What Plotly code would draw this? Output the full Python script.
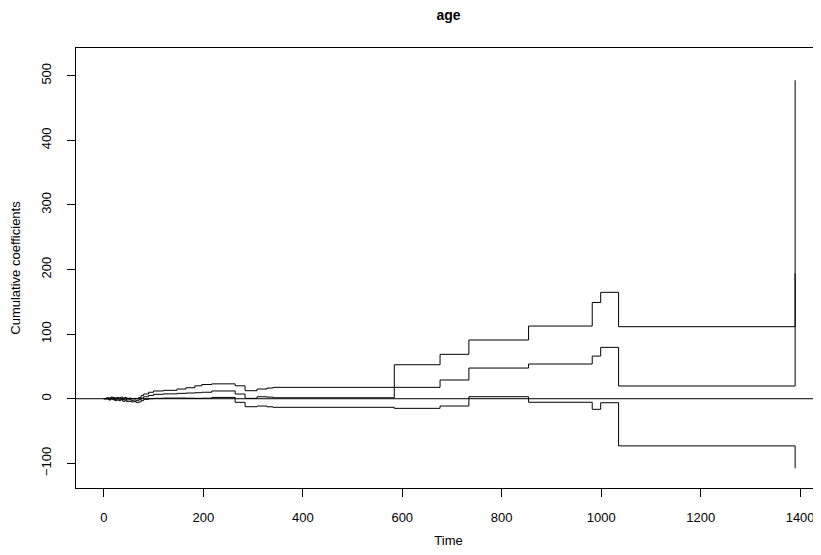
import plotly.graph_objects as go

# Step times (event times) and cumulative coefficient estimates for "age"
times = [0, 5, 10, 14, 18, 22, 26, 30, 34, 38, 42, 46, 50, 55, 60, 65, 70, 75, 80, 90,
         100, 120, 147, 165, 183, 197, 217, 264, 284, 308, 328, 340, 584, 676, 734,
         854, 982, 999, 1035, 1390]

estimate = [0, 0.5, -0.5, 1, 0.3, -1, 0, -0.8, 0.5, -1.5, -0.5, -2, -1.5, -2.5, -2, -3,
            -1.5, 1, 3, 5, 6.8, 7.5, 8.3, 8.8, 9.3, 10, 12, 7.3, 0.6, 3, 2.5, 1.5, 17.6,
            29, 47.5, 53.7, 66, 79.5, 19.7, 194]

upper = [0, 1.5, 1, 2.5, 2, 1, 2, 1.5, 2.5, 1, 2, 0.5, 1, 0, 0.5, 0, 2, 5, 7.3, 10,
         12, 13, 15, 17, 20, 22, 23, 20, 12.4, 15, 16.5, 17.6, 52.6, 68.7, 90.9,
         112.5, 149, 164.7, 111.5, 493]

lower = [0, -0.5, -2, -0.5, -1.5, -3, -2, -3, -1.5, -4, -3, -4.5, -4, -5, -4.5, -6,
         -5, -3, -1, 0, 0.6, 1, 1, 0.8, 0.6, 0.8, 2, -5.6, -12.4, -11.3, -12.5, -13.3,
         -14.9, -11.3, 3.1, -5.5, -16.4, -6.2, -73, -107.7]

x_ticks = [0, 200, 400, 600, 800, 1000, 1200, 1400]
y_ticks = [-100, 0, 100, 200, 300, 400, 500]
y_ticktext = ["\u2212100", "0", "100", "200", "300", "400", "500"]

FONT = "Liberation Sans, Arial, Helvetica, sans-serif"

# The page body has an 8px margin, so the figure is sized/placed to compensate.
W, H = 813, 547
ML, MR, MT, MB = 68, 0, 40, 67

fig = go.Figure()
for series in (upper, estimate, lower):
    fig.add_trace(go.Scatter(x=times, y=series, mode="lines", line_shape="hv",
                             line=dict(color="black", width=1), showlegend=False,
                             hoverinfo="skip"))

# horizontal reference line at zero (abline(h=0))
fig.add_shape(type="line", xref="paper", x0=0, x1=1, yref="y", y0=0, y1=0,
              line=dict(color="black", width=1), layer="above")

fig.update_layout(
    width=W, height=H,
    margin=dict(l=ML, r=MR, t=MT, b=MB),
    paper_bgcolor="white", plot_bgcolor="white",
    font=dict(family=FONT, size=13, color="black"),
    title=dict(text="<b>age</b>", x=(ML + W) / 2 / W, xanchor="center",
               y=1 - 7 / H, yanchor="middle", font=dict(size=14, family=FONT)),
    xaxis=dict(range=[-56, 1442], tickvals=x_ticks, ticktext=[str(v) for v in x_ticks],
               ticks="outside", ticklen=8, tickcolor="black", showgrid=False,
               zeroline=False, showline=True, linecolor="black", linewidth=1, mirror=True,
               ticklabelstandoff=9, automargin=False,
               title=dict(text="Time", standoff=12, font=dict(size=13))),
    yaxis=dict(range=[-138.2, 542.9], tickvals=y_ticks, ticktext=y_ticktext,
               ticks="outside", ticklen=8, tickcolor="black", showgrid=False,
               zeroline=False, showline=True, linecolor="black", linewidth=1, mirror=True,
               tickangle=-90, ticklabelstandoff=11, automargin=False,
               title=dict(text="Cumulative coefficients", standoff=15, font=dict(size=13))),
)

fig.write_html("out.html")
